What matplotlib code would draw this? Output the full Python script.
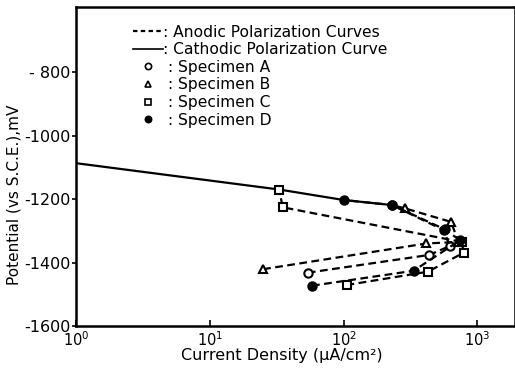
import numpy as np
import matplotlib
matplotlib.use("Agg")
import matplotlib.pyplot as plt
from matplotlib.lines import Line2D

# cathodic polarization curve (solid)
cath_x = [1, 33, 100, 230, 285]
cath_y = [-1087, -1170, -1203, -1219, -1229]

# anodic polarization curves (dashed), one per specimen
a_x = [54, 437, 620, 560, 230]
a_y = [-1432, -1376, -1348, -1298, -1219]
b_x = [25, 414, 720, 635, 285]
b_y = [-1421, -1340, -1335, -1272, -1229]
c_x = [105, 425, 790, 760, 35, 33]
c_y = [-1471, -1429, -1369, -1335, -1226, -1170]
d_x = [58, 333, 740, 567, 230, 100]
d_y = [-1473, -1426, -1330, -1295, -1219, -1203]

yticks = [-1600, -1400, -1200, -1000, -800]
ytick_labels = ["-1600", "-1400", "-1200", "-1000", "- 800"]
xticks = [1, 10, 100, 1000]
xtick_labels = [r"$10^0$", r"$10^1$", r"$10^2$", r"$10^3$"]

fig = plt.figure(figsize=(5.15, 3.69), dpi=100)
ax = fig.add_axes([0.1476, 0.1165, 0.852, 0.8645])

ax.plot(cath_x, cath_y, color="black", lw=1.6, solid_capstyle="butt")

dash = dict(color="black", lw=1.6, linestyle=(0, (3.5, 2)), markersize=6,
            markeredgewidth=1.5)
ax.plot(a_x, a_y, marker="o", markerfacecolor="white", **dash)
ax.plot(b_x, b_y, marker="^", markerfacecolor="white", **dash)
ax.plot(c_x, c_y, marker="s", markerfacecolor="white", **dash)
ax.plot(d_x, d_y, marker="o", markerfacecolor="black", **dash)

ax.set_xscale("log")
ax.set_xlim(1, 1900)
ax.set_ylim(-1600, -595)
ax.set_yticks(yticks)
ax.set_yticklabels(ytick_labels, fontsize=11.5)
ax.set_xticks(xticks)
ax.set_xticklabels(xtick_labels, fontsize=10.5)
ax.xaxis.set_minor_locator(matplotlib.ticker.NullLocator())
ax.tick_params(axis="x", direction="in", length=4, width=1.2, pad=3)
ax.tick_params(axis="y", direction="out", length=3, width=1.2, pad=1)
for s in ax.spines.values():
    s.set_linewidth(1.8)

ax.set_xlabel("Current Density (\u03bcA/cm\u00b2)", fontsize=11.5)
ax.xaxis.set_label_coords(0.47, -0.07)
ax.set_ylabel("Potential (vs S.C.E.),mV", fontsize=11)
ax.yaxis.set_label_coords(-0.125, 0.41)

handles = [
    Line2D([], [], color="black", lw=1.6, linestyle=(0, (2, 1.5))),
    Line2D([], [], color="black", lw=1.2),
    Line2D([], [], color="black", lw=0, marker="o", markerfacecolor="white", markersize=4.5, markeredgewidth=1.2),
    Line2D([], [], color="black", lw=0, marker="^", markerfacecolor="white", markersize=4.5, markeredgewidth=1.2),
    Line2D([], [], color="black", lw=0, marker="s", markerfacecolor="white", markersize=4.5, markeredgewidth=1.2),
    Line2D([], [], color="black", lw=0, marker="o", markerfacecolor="black", markersize=4.5, markeredgewidth=1.2),
]
labels = [": Anodic Polarization Curves", ": Cathodic Polarization Curve",
          " : Specimen A", " : Specimen B", " : Specimen C", " : Specimen D"]
ax.legend(handles, labels, loc="upper left", bbox_to_anchor=(0.13, 0.945),
          frameon=False, fontsize=11.2, handlelength=1.9, handletextpad=0.0,
          labelspacing=0.17, borderpad=0, borderaxespad=0)

fig.savefig("out.png", dpi=100)
